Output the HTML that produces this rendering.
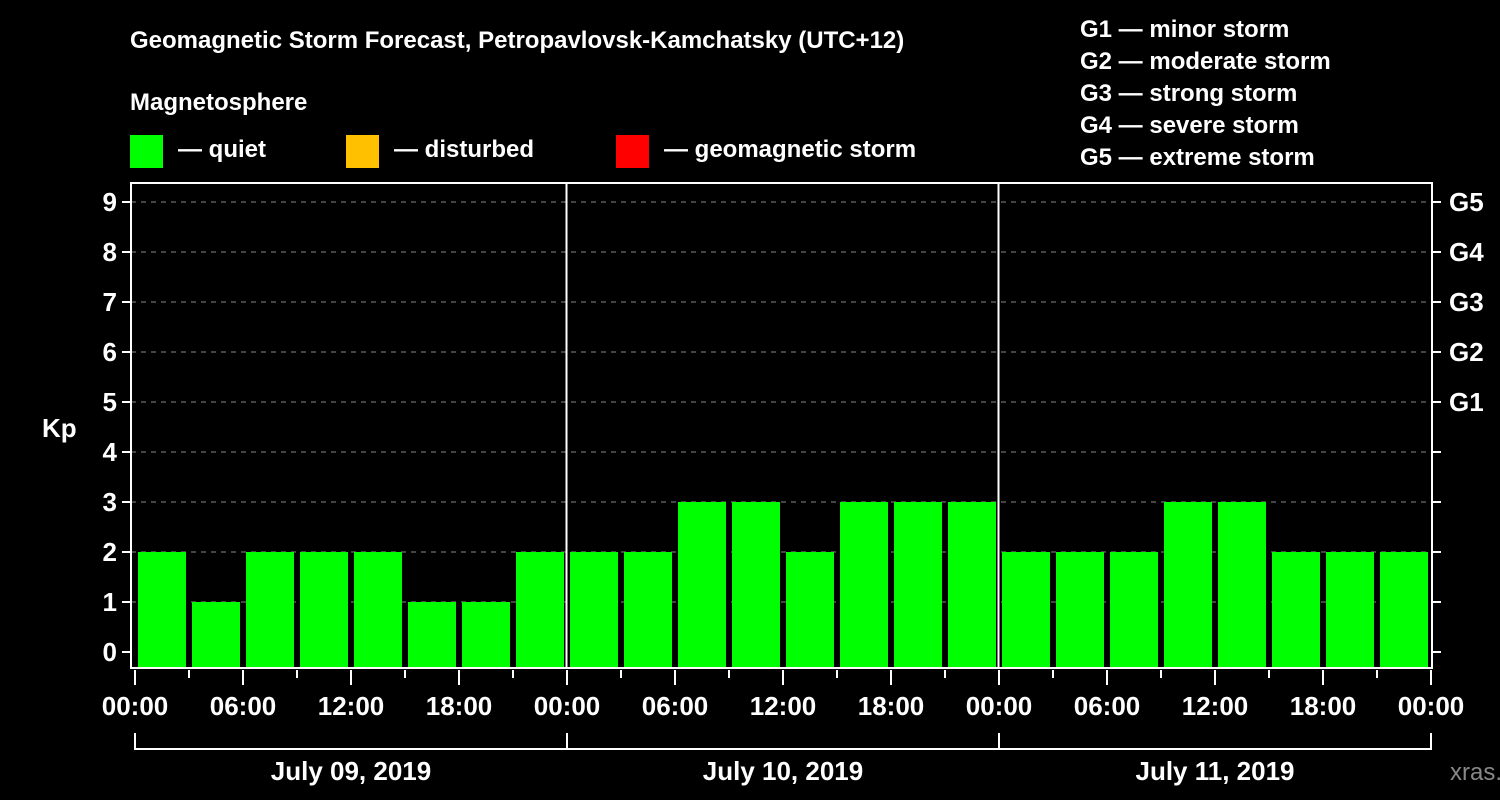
<!DOCTYPE html>
<html><head><meta charset="utf-8"><style>
html,body{margin:0;padding:0;background:#000;}
svg{display:block;font-family:"Liberation Sans",Arial,sans-serif;font-weight:bold;}
</style></head><body>
<svg id="c" width="1500" height="800" xmlns="http://www.w3.org/2000/svg">
<rect width="1500" height="800" fill="#000"/>
<text x="130" y="48" fill="#fff" font-size="24">Geomagnetic Storm Forecast, Petropavlovsk-Kamchatsky (UTC+12)</text>
<text x="130" y="110" fill="#fff" font-size="24">Magnetosphere</text>
<g><rect x="130" y="135" width="33" height="33" fill="#00ff00"/><text x="178" y="157" fill="#fff" font-size="24">— quiet</text></g>
<g><rect x="346" y="135" width="33" height="33" fill="#ffc000"/><text x="394" y="157" fill="#fff" font-size="24">— disturbed</text></g>
<g><rect x="616" y="135" width="33" height="33" fill="#ff0000"/><text x="664" y="157" fill="#fff" font-size="24">— geomagnetic storm</text></g>
<g fill="#fff" font-size="24">
<text x="1080" y="37">G1 — minor storm</text>
<text x="1080" y="69">G2 — moderate storm</text>
<text x="1080" y="101">G3 — strong storm</text>
<text x="1080" y="133">G4 — severe storm</text>
<text x="1080" y="165">G5 — extreme storm</text>
</g>
<text x="42" y="437" fill="#fff" font-size="26">Kp</text>
<text x="1450" y="780" fill="#888" font-size="24" font-weight="normal">xras.ru</text>
<g id="plot"></g>
</svg>
<script>
const kpValues = [2,1,2,2,2,1,1,2, 2,2,3,3,2,3,3,3, 2,2,2,3,3,2,2,2];
const dayLabels = ["July 09, 2019","July 10, 2019","July 11, 2019"];
const hourLabels = ["00:00","06:00","12:00","18:00"];
const yTicks = [0,1,2,3,4,5,6,7,8,9];
const gLabels = ["G1","G2","G3","G4","G5"];
const gLevels = [5,6,7,8,9];

const NS="http://www.w3.org/2000/svg";
const g=document.getElementById('plot');
const L=131,R=1432,T=183,B=668,X0=135,DAYW=432;
const yS=v=>652-50*v;
const xS=h=>X0+h*DAYW/24;
function mk(tag,a){const e=document.createElementNS(NS,tag);for(const k in a)e.setAttribute(k,a[k]);g.appendChild(e);return e;}

yTicks.forEach(v=>{
  const y=yS(v);
  if(v>0){const l=mk('line',{x1:L,x2:R,y1:y,y2:y,stroke:'#888','stroke-width':1,'stroke-dasharray':'5,5'});
  
  }
  const t=mk('line',{x1:L-9,x2:L,y1:y,y2:y,stroke:'#fff','stroke-width':2});
  
  
  const t2=mk('line',{x1:R,x2:R+9,y1:y,y2:y,stroke:'#fff','stroke-width':2});
  
  
  const tx=mk('text',{x:L-14,y:y+9,fill:'#fff','font-size':26,'text-anchor':'end'});
  tx.textContent=v;
  
  
});
gLabels.forEach((s,i)=>{
  const tx=mk('text',{x:1449,y:yS(gLevels[i])+9,fill:'#fff','font-size':26});
  tx.textContent=s;
  
  
});
kpValues.forEach((v,i)=>{
  const x=xS(i*3)+3;
  const col=v>=5?'#ff0000':(v>=4?'#ffc000':'#00ff00');
  const r=mk('rect',{x:x,y:yS(v),width:48,height:B-1-yS(v),fill:col});
  
  
});
[1,2].forEach(d=>{
  const l=mk('line',{x1:xS(24*d)-0.5,x2:xS(24*d)-0.5,y1:T,y2:B,stroke:'#fff','stroke-width':2});
  
  
});
const fr=mk('rect',{x:L,y:T,width:R-L,height:B-T,fill:'none',stroke:'#fff','stroke-width':2});


for(let h=0;h<=72;h+=3){
  const major=h%6===0;
  const t=mk('line',{x1:xS(h),x2:xS(h),y1:B+2,y2:major?B+17:B+10,stroke:'#fff','stroke-width':2});
  
  
  if(h%12===6||h%12===0){
    const tx=mk('text',{x:xS(h),y:715,fill:'#fff','font-size':26,'text-anchor':'middle'});
    tx.textContent=hourLabels[(h%24)/6];
    
    
  }
}
const br=mk('path',{d:`M${xS(0)},733 V749 H${xS(72)} V733 M${xS(24)},733 V749 M${xS(48)},733 V749`,stroke:'#fff','stroke-width':2,fill:'none'});


dayLabels.forEach((s,d)=>{
  const tx=mk('text',{x:xS(24*d+12),y:780,fill:'#fff','font-size':26,'text-anchor':'middle'});
  tx.textContent=s;
  
  
});
</script>
</body></html>
